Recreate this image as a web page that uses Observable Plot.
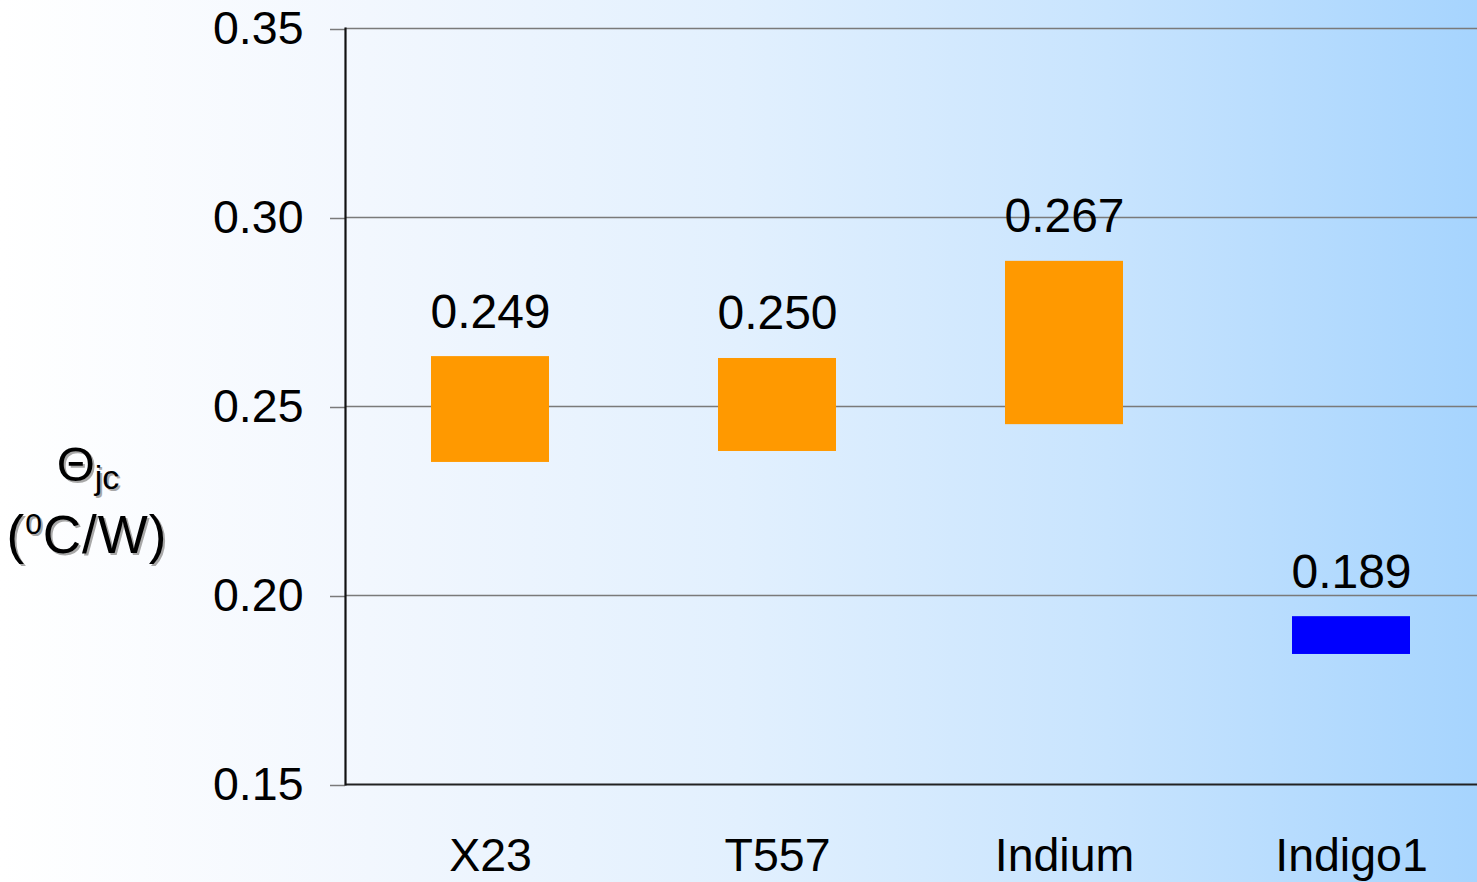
<!DOCTYPE html>
<html><head><meta charset="utf-8">
<script src="https://cdn.jsdelivr.net/npm/d3@7"></script>
<script src="https://cdn.jsdelivr.net/npm/@observablehq/plot@0.6"></script>
<style>
html,body{margin:0;padding:0;overflow:hidden;}
body{width:1477px;height:882px;background:linear-gradient(to right,#ffffff 0%,#f2f7fe 25%,#e2f0fe 50%,#c8e4fe 75%,#a6d4fe 100%);}
#chart svg{display:block;font-family:"Liberation Sans",Arial,sans-serif;}
</style></head><body><div id="chart"></div>
<script>
const categories = ["X23", "T557", "Indium", "Indigo1"];
const lowValues = [0.2352, 0.2381, 0.2452, 0.1844];
const highValues = [0.2632, 0.2627, 0.2884, 0.1944];
const valueLabels = ["0.249", "0.250", "0.267", "0.189"];
const barColors = ["#ff9900", "#ff9900", "#ff9900", "#0000ff"];
const yTicks = [0.15, 0.20, 0.25, 0.30, 0.35];
const yTickLabels = ["0.15", "0.20", "0.25", "0.30", "0.35"];
const gridValues = [0.20, 0.25, 0.30, 0.35];

const data = categories.map((c, i) => ({cat: c, low: lowValues[i], high: highValues[i], label: valueLabels[i], color: barColors[i]}));

const plot = Plot.plot({
  width: 1477, height: 882,
  marginLeft: 345, marginRight: 0, marginTop: 28, marginBottom: 98,
  style: {background: "transparent", fontFamily: "Liberation Sans, Arial, sans-serif", color: "#000", overflow: "visible"},
  x: {domain: categories, range: [346.5, 1494.5], paddingInner: 0.589, paddingOuter: 0.2945, align: 0.5},
  y: {domain: [0.15, 0.35], range: [784, 28]},
  color: {type: "identity"},
  marks: [
    Plot.ruleY(gridValues, {stroke: "#7a7a7a", strokeWidth: 1.5}),
    Plot.axisY({ticks: yTicks, tickSize: 15, tickPadding: 27, fontSize: 46.5, stroke: "#7a7a7a", strokeWidth: 1.5,
      tickFormat: d => yTickLabels[yTicks.indexOf(d)], label: null, dy: 1}),
    Plot.axisX({tickSize: 0, tickPadding: 53, fontSize: 46.5, label: null}),
    Plot.ruleY([0.15], {stroke: "#222", strokeWidth: 1.8}),
    Plot.frame({anchor: "left", stroke: "#111", strokeWidth: 2.2}),
    Plot.barY(data, {x: "cat", y1: "low", y2: "high", fill: "color"}),
    Plot.text(data, {x: "cat", y: "high", text: "label", dy: -29, lineAnchor: "bottom", fontSize: 48, fill: "#000"})
  ]
});
document.getElementById("chart").appendChild(plot);

const svg = d3.select(plot);
function addLabel(ox, oy, fill) {
  const g = svg.append("g").attr("fill", fill).attr("font-family", "Liberation Sans, Arial, sans-serif");
  const t1 = g.append("text").attr("x", 88 + ox).attr("y", 481 + oy).attr("text-anchor", "middle").attr("font-size", 49);
  t1.append("tspan").text("Θ");
  t1.append("tspan").attr("font-size", 34).attr("dy", 8).text("jc");
  const t2 = g.append("text").attr("x", 87 + ox).attr("y", 553 + oy).attr("text-anchor", "middle").attr("font-size", 53).attr("letter-spacing", 1);
  t2.append("tspan").text("(");
  t2.append("tspan").attr("font-size", 30).attr("dy", -19).text("0");
  t2.append("tspan").attr("dy", 19).text("C/W)");
}
addLabel(2, 2, "#a8a8a8");
addLabel(0, 0, "#000");
</script>
</body></html>
